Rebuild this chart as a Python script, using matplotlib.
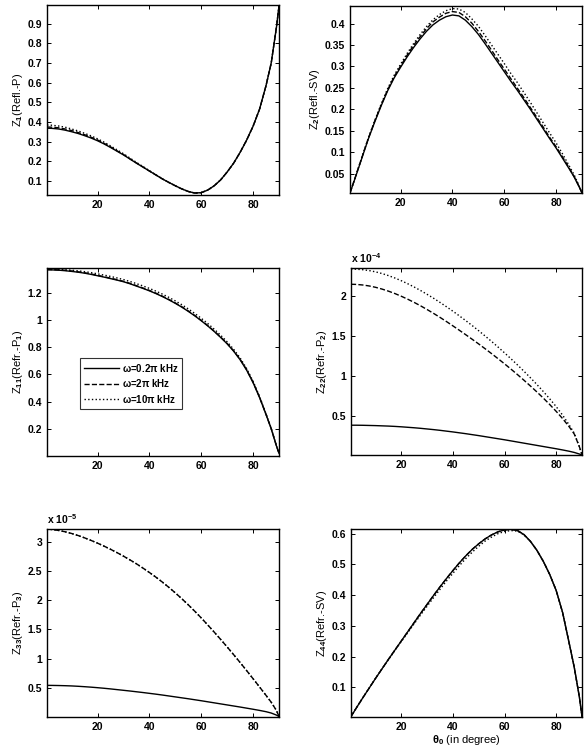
import matplotlib
matplotlib.use("Agg")
import matplotlib.pyplot as plt

plt.rcParams['font.family'] = ['Liberation Sans', 'DejaVu Sans']
plt.rcParams['font.weight'] = 'bold'
plt.rcParams['mathtext.fontset'] = 'custom'
plt.rcParams['mathtext.rm'] = 'Liberation Sans:bold'
plt.rcParams['mathtext.it'] = 'Liberation Sans:bold'
plt.rcParams['mathtext.default'] = 'rm'

# incidence angle theta_0 (deg)
theta = [0.5, 2.5, 5, 7.5, 10, 12.5, 15, 17.5, 20, 22.5, 25, 27.5, 30, 32.5, 35, 37.5,
         40, 42.5, 45, 47.5, 50, 52.5, 55, 57.5, 60, 62.5, 65, 67.5, 70, 72.5, 75, 77.5,
         80, 82.5, 85, 87, 89, 90]

# Z1 (Refl.-P)
z1_a = [.368, .367, .364, .358, .350, .341, .330, .318, .304, .288, .270, .251, .232, .211,
        .190, .170, .150, .130, .110, .092, .075, .059, .046, .038, .040, .053, .075, .105,
        .145, .190, .245, .307, .378, .465, .585, .700, .880, .990]
z1_b = [.374, .373, .370, .364, .356, .346, .335, .322, .308, .291, .273, .253, .234, .212,
        .191, .171, .150, .130, .110, .092, .075, .059, .046, .038, .040, .053, .075, .105,
        .145, .190, .245, .307, .378, .465, .585, .700, .880, .990]
z1_c = [.384, .383, .379, .373, .364, .354, .342, .329, .314, .297, .278, .258, .238, .216,
        .194, .173, .152, .131, .110, .092, .075, .059, .046, .038, .040, .053, .075, .105,
        .145, .190, .245, .307, .378, .465, .585, .700, .880, .990]

# Z2 (Refl.-SV)
z2_a = [.005, .040, .085, .130, .170, .208, .243, .273, .298, .322, .344, .364, .382, .397,
        .408, .416, .420, .418, .408, .393, .375, .354, .332, .310, .288, .266, .245, .223,
        .201, .178, .155, .132, .110, .086, .062, .042, .018, .005]
z2_b = [.005, .041, .086, .131, .172, .210, .245, .276, .301, .326, .349, .369, .388, .404,
        .415, .424, .428, .426, .416, .401, .382, .361, .339, .316, .294, .272, .250, .228,
        .205, .182, .159, .135, .113, .089, .064, .043, .019, .005]
z2_c = [.005, .041, .087, .132, .173, .212, .248, .279, .305, .330, .353, .374, .393, .409,
        .421, .430, .435, .434, .426, .411, .394, .373, .351, .329, .307, .284, .263, .240,
        .217, .193, .169, .145, .122, .096, .069, .047, .020, .005]

# Z11 (Refr.-P1)
z11_a = [1.370, 1.369, 1.367, 1.363, 1.358, 1.352, 1.345, 1.336, 1.326, 1.316, 1.305, 1.294,
         1.282, 1.267, 1.250, 1.233, 1.215, 1.195, 1.173, 1.149, 1.123, 1.095, 1.064, 1.031,
         0.995, 0.957, 0.916, 0.872, 0.825, 0.771, 0.708, 0.632, 0.540, 0.430, 0.305, 0.200,
         0.075, 0.020]
z11_b = [1.372, 1.371, 1.369, 1.366, 1.361, 1.355, 1.348, 1.339, 1.329, 1.319, 1.308, 1.297,
         1.285, 1.270, 1.253, 1.236, 1.218, 1.198, 1.176, 1.152, 1.126, 1.098, 1.067, 1.034,
         0.998, 0.960, 0.919, 0.875, 0.828, 0.774, 0.711, 0.635, 0.542, 0.432, 0.306, 0.201,
         0.075, 0.020]
z11_c = [1.374, 1.374, 1.373, 1.370, 1.367, 1.362, 1.356, 1.349, 1.340, 1.331, 1.321, 1.310,
         1.298, 1.284, 1.268, 1.251, 1.233, 1.213, 1.191, 1.167, 1.141, 1.113, 1.082, 1.049,
         1.013, 0.975, 0.933, 0.888, 0.840, 0.785, 0.721, 0.644, 0.550, 0.438, 0.310, 0.203,
         0.076, 0.020]

# Z22 (Refr.-P2), x 1e-4
z22_a = [.390, .390, .389, .387, .385, .382, .379, .375, .370, .364, .358, .351, .343, .335,
         .326, .316, .306, .295, .284, .272, .260, .247, .234, .221, .208, .194, .180, .166,
         .152, .138, .124, .110, .096, .081, .065, .050, .030, .018]
z22_b = [2.150, 2.148, 2.141, 2.129, 2.112, 2.090, 2.064, 2.034, 2.000, 1.963, 1.923, 1.880,
         1.834, 1.786, 1.736, 1.684, 1.630, 1.575, 1.519, 1.462, 1.404, 1.344, 1.283, 1.220,
         1.156, 1.090, 1.022, 0.952, 0.880, 0.806, 0.729, 0.648, 0.563, 0.472, 0.372, 0.280,
         0.120, 0.020]
z22_c = [2.340, 2.338, 2.332, 2.321, 2.305, 2.284, 2.258, 2.228, 2.194, 2.156, 2.115, 2.071,
         2.024, 1.975, 1.923, 1.869, 1.813, 1.755, 1.695, 1.633, 1.569, 1.503, 1.435, 1.365,
         1.293, 1.219, 1.143, 1.064, 0.983, 0.899, 0.811, 0.719, 0.622, 0.515, 0.395, 0.290,
         0.120, 0.020]

# Z33 (Refr.-P3), x 1e-5 (2pi and 10pi curves coincide)
z33_a = [.540, .539, .537, .534, .530, .524, .517, .509, .500, .490, .479, .467, .455, .443,
         .430, .417, .403, .389, .374, .358, .342, .326, .310, .293, .276, .258, .240, .222,
         .204, .186, .168, .149, .130, .110, .088, .065, .030, .005]
z33_b = [3.222, 3.214, 3.198, 3.175, 3.146, 3.111, 3.071, 3.027, 2.980, 2.929, 2.875, 2.818,
         2.757, 2.693, 2.626, 2.553, 2.477, 2.397, 2.312, 2.222, 2.127, 2.027, 1.922, 1.812,
         1.697, 1.577, 1.454, 1.328, 1.199, 1.067, 0.932, 0.794, 0.654, 0.512, 0.368, 0.250,
         0.110, 0.005]

# Z44 (Refr.-SV)
z44_a = [.005, .032, .065, .097, .129, .160, .191, .221, .251, .281, .311, .341, .370, .399,
         .427, .454, .480, .505, .528, .549, .567, .583, .596, .606, .612, .614, .610, .597,
         .575, .546, .510, .467, .415, .343, .245, .165, .068, .005]
z44_c = [.005, .032, .065, .097, .129, .160, .190, .220, .249, .278, .307, .336, .364, .392,
         .419, .446, .471, .496, .519, .540, .559, .576, .589, .600, .607, .610, .608, .596,
         .575, .546, .510, .467, .415, .343, .245, .165, .068, .005]

legend_labels = [r'$\omega$=0.2$\pi$ kHz', r'$\omega$=2$\pi$ kHz', r'$\omega$=10$\pi$ kHz']

W, H = 587, 753
fig = plt.figure(figsize=(W / 100, H / 100), dpi=100)
lw = 1.0
fs = 7.5


def make_ax(x0, y0, x1, y1):
    # axes box given in pixel coords of the reference
    ax = fig.add_axes([x0 / W, 1 - y1 / H, (x1 - x0) / W, (y1 - y0) / H])
    ax.tick_params(direction='in', top=True, right=True, labelsize=fs, length=3, width=0.7)
    for s in ax.spines.values():
        s.set_linewidth(1.0)
    ax.set_xlim(0.5, 90)
    ax.set_xticks([20, 40, 60, 80])
    return ax


# top left
ax = make_ax(47, 5, 279, 195)
ax.plot(theta, z1_a, '-', color='k', lw=lw)
ax.plot(theta, z1_b, '--', color='k', lw=lw)
ax.plot(theta, z1_c, ':', color='k', lw=lw)
ax.set_ylim(0.028, 0.995)
ax.set_yticks([0.1, 0.2, 0.3, 0.4, 0.5, 0.6, 0.7, 0.8, 0.9])
ax.set_yticklabels(['0.1', '0.2', '0.3', '0.4', '0.5', '0.6', '0.7', '0.8', '0.9'])
ax.set_ylabel('Z$_1$(Refl.-P)', fontsize=8, labelpad=2)

# top right
ax = make_ax(350, 6, 582, 193)
ax.plot(theta, z2_a, '-', color='k', lw=lw)
ax.plot(theta, z2_b, '--', color='k', lw=lw)
ax.plot(theta, z2_c, ':', color='k', lw=lw)
ax.set_ylim(0.005, 0.441)
ax.set_yticks([0.05, 0.1, 0.15, 0.2, 0.25, 0.3, 0.35, 0.4])
ax.set_yticklabels(['0.05', '0.1', '0.15', '0.2', '0.25', '0.3', '0.35', '0.4'])
ax.set_ylabel('Z$_2$(Refl.-SV)', fontsize=8, labelpad=2)

# middle left
ax = make_ax(47, 268, 279, 456)
l1, = ax.plot(theta, z11_a, '-', color='k', lw=lw)
l2, = ax.plot(theta, z11_b, '--', color='k', lw=lw)
l3, = ax.plot(theta, z11_c, ':', color='k', lw=lw)
ax.set_ylim(0.0, 1.383)
ax.set_yticks([0.2, 0.4, 0.6, 0.8, 1.0, 1.2])
ax.set_yticklabels(['0.2', '0.4', '0.6', '0.8', '1', '1.2'])
ax.set_ylabel('Z$_{11}$(Refr.-P$_1$)', fontsize=8, labelpad=2)
leg = ax.legend([l1, l2, l3], legend_labels, loc='upper left',
                bbox_to_anchor=((80 - 47) / 232, (456 - 358) / 188),
                fontsize=7, frameon=True, fancybox=False, edgecolor='k',
                handlelength=3.6, handletextpad=0.3, borderpad=0.4, labelspacing=0.35,
                borderaxespad=0)
leg.get_frame().set_linewidth(0.8)

# middle right
ax = make_ax(351, 268, 582, 455)
ax.plot(theta, z22_a, '-', color='k', lw=lw)
ax.plot(theta, z22_b, '--', color='k', lw=lw)
ax.plot(theta, z22_c, ':', color='k', lw=lw)
ax.set_ylim(0.018, 2.353)
ax.set_yticks([0.5, 1.0, 1.5, 2.0])
ax.set_yticklabels(['0.5', '1', '1.5', '2'])
ax.set_ylabel('Z$_{22}$(Refr.-P$_2$)', fontsize=8, labelpad=2)
ax.text(0.0, 1.015, r'x 10$^{-4}$', transform=ax.transAxes, fontsize=fs,
        ha='left', va='bottom')

# bottom left
ax = make_ax(47, 529, 279, 717)
ax.plot(theta, z33_a, '-', color='k', lw=lw)
ax.plot(theta, z33_b, '--', color='k', lw=lw)
ax.plot(theta, z33_b, ':', color='k', lw=lw)
ax.set_ylim(-0.003, 3.223)
ax.set_yticks([0.5, 1.0, 1.5, 2.0, 2.5, 3.0])
ax.set_yticklabels(['0.5', '1', '1.5', '2', '2.5', '3'])
ax.set_ylabel('Z$_{33}$(Refr.-P$_3$)', fontsize=8, labelpad=2)
ax.text(0.0, 1.015, r'x 10$^{-5}$', transform=ax.transAxes, fontsize=fs,
        ha='left', va='bottom')

# bottom right
ax = make_ax(351, 529, 582, 717)
ax.plot(theta, z44_a, '-', color='k', lw=lw)
ax.plot(theta, z44_a, '--', color='k', lw=lw)
ax.plot(theta, z44_c, ':', color='k', lw=lw)
ax.set_ylim(0.0035, 0.615)
ax.set_yticks([0.1, 0.2, 0.3, 0.4, 0.5, 0.6])
ax.set_yticklabels(['0.1', '0.2', '0.3', '0.4', '0.5', '0.6'])
ax.set_ylabel('Z$_{44}$(Refr.-SV)', fontsize=8, labelpad=2)
ax.set_xlabel(r'$\theta_0$ (in degree)', fontsize=8, labelpad=1)

fig.savefig('out.png', dpi=100, facecolor='white')
